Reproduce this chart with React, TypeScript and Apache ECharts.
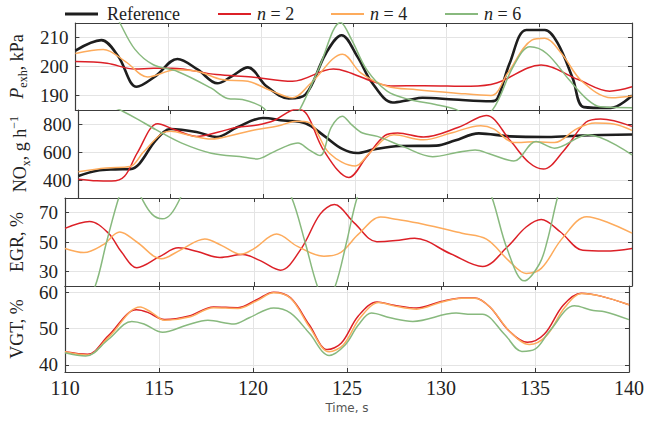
import React, { useEffect, useRef } from 'react';
import * as echarts from 'echarts';

// ---------- data ----------
const timeRange = [110, 140];
const timeTicks = [110, 115, 120, 125, 130, 135, 140];
const legendNames = ['Reference', 'n = 2', 'n = 4', 'n = 6'];

// Panel 1: exhaust pressure, kPa
const pexhRef = [[110,205.5],[111.4,209.1],[112.3,203.6],[113.3,193],[114.3,196.6],[115.5,202.6],[116.6,198.9],[117.65,194.2],[118.4,196.5],[119.3,199.7],[120.3,193.2],[121.5,189],[122.4,190.3],[123.5,204.5],[124.35,210.8],[125.2,203.4],[126,194.3],[127.1,187.6],[128,188.5],[128.7,189.2],[130.4,188.6],[132.4,188],[132.75,189],[133.4,201],[134.3,212.6],[135.3,212.6],[136,208],[136.8,196],[137.4,186],[138.85,185.7],[140,190]];
const pexhN2 = [[110,201.7],[111.7,201.1],[113.2,199.1],[114.2,199.4],[115.2,199.4],[117.6,197.2],[119.5,196.4],[121.7,194.9],[123.9,199.1],[124.6,198.3],[126,194.9],[127,193.3],[128.8,193.4],[131.3,193.2],[132.7,194.3],[135.1,200.5],[137.1,195.5],[138.8,191.5],[140,193]];
const pexhN4 = [[110,204.5],[111.5,205.9],[112.7,201.7],[113.9,196.4],[115.4,198.9],[116.6,198.3],[117.9,195.5],[119.3,194.9],[120.6,191.5],[121.7,189.2],[122.7,194.3],[124.4,204.2],[125.4,197.7],[126.8,193.2],[128.4,192],[130.4,190.9],[132.4,190],[133.3,197.7],[134.6,209.1],[135.3,209.7],[136.2,204.5],[137.3,194.9],[138.9,189.2],[140,189.8]];
const pexhN6 = [[110,240],[111,230],[112,220],[112.4,215],[113.2,206],[114.2,200.6],[115.5,198.3],[117.3,192.6],[118.2,189],[119,188.6],[120,186.3],[121,181],[121.6,181],[122.1,185.2],[123.1,199],[124.3,215.2],[124.9,209.1],[125.7,198.9],[126.8,191.5],[128,188.6],[129.4,186.9],[130.5,185.2],[131.5,182],[132.5,185.2],[133.6,200],[134.5,206.8],[135.4,204.5],[136.6,195.5],[137.6,188.6],[138.3,186.1],[140,185.8]];

// Panel 2: NOx, g/h
const noxRef = [[110,433],[111,470],[112,480],[112.8,482],[113.3,520],[114.2,690],[115,769],[116.4,748],[117.5,712],[118.6,781],[120,848],[121.1,830],[122.3,810],[123.3,722],[124.3,626],[125.1,597],[126,622],[127.4,647],[129.4,650],[130.4,686],[131.7,738],[133.4,716],[135.4,712],[137.3,722],[140,730]];
const noxN2 = [[110,410],[111,398],[111.8,396],[112.5,430],[113.2,600],[114.3,807],[115.2,765],[116.4,716],[117.6,748],[118.6,781],[119.7,798],[120.6,830],[121.5,900],[121.9,910],[122.4,870],[123.3,614],[124.66,422],[125.6,567],[126.6,721],[127.3,740],[128.7,711],[130.6,781],[132.1,865],[133.4,686],[134.4,531],[135.2,482],[136.3,614],[137.5,817],[138.3,841],[140,788]];
const noxN4 = [[110,463],[111.5,490],[112.8,500],[113.5,600],[114.5,735],[115,752],[116,725],[117.2,697],[118.5,730],[119.6,764],[120.8,790],[121.8,824],[122.5,815],[123.6,595],[125,504],[125.8,600],[127.1,728],[128.7,692],[130.2,740],[131.8,793],[132.5,770],[133.6,672],[134.8,678],[135.8,672],[137,770],[138,812],[139,805],[140,759]];
const noxN6 = [[110,1010],[111,960],[112,920],[112.4,896],[113.2,840],[114.2,764],[115.6,668],[117.2,596],[119,567],[119.7,555],[120.5,600],[121.2,643],[121.9,668],[122.5,620],[123.1,579],[123.7,781],[124.3,860],[124.8,800],[125.4,740],[126.2,716],[127.6,643],[129.2,571],[130.5,600],[131.5,619],[132.3,590],[133.6,540],[134.8,680],[135.8,632],[137.6,728],[140,583]];

// Panel 3: EGR, %
const egrN2 = [[110,59.3],[111.3,64],[112.3,56],[113,43],[113.8,32.5],[115,40],[116,46],[117,43.5],[118.2,39.5],[119.4,41.5],[120.3,37.5],[121.4,30.8],[122.5,45.5],[123.5,69],[124.25,75.5],[125.3,63],[126.5,50.2],[127.5,51],[128.5,52.6],[130.4,42],[132.1,33.3],[133.4,46.6],[134.4,60.2],[135.2,65.3],[136.2,57],[137.4,44.3],[138.6,43.8],[140,45.6]];
const egrN4 = [[110,45.6],[111,42.8],[112,48],[112.9,56.8],[113.8,50],[115.1,38.6],[116.1,44.5],[117.4,52.1],[118.3,47.5],[119.3,41.6],[120,45.5],[121.2,55.4],[122.3,47],[123.7,40.3],[124.6,43],[125.5,55],[126.7,67],[127.5,65.5],[128.9,62.3],[131,56],[132.3,52],[133.5,37],[134.4,28.6],[135.2,32],[136.3,52.3],[137.6,67.2],[138.7,63.5],[140,56]];
const egrN6 = [[110,-20],[110.8,0],[111.6,20],[112.2,50],[112.84,80],[113.3,95],[113.7,90],[114.05,80],[114.6,69],[115.15,65.8],[115.6,69],[116.1,80],[116.8,100],[118,120],[119.5,125],[121,105],[122,80],[122.7,50],[123.35,20],[123.8,10],[124.3,20],[124.9,50],[125.45,80],[126.2,105],[128,130],[130,130],[131.8,105],[132.6,80],[133.4,45],[134.3,23.5],[135.1,35],[135.5,50],[136.05,80],[136.7,110],[138,140],[140,150]];

// Panel 4: VGT, %
const vgtN2 = [[110,43.6],[111.2,42.9],[112.3,48],[113.8,55.2],[114.4,54.5],[115.3,52.5],[116.6,53.5],[117.9,56],[119.2,55.8],[120.2,58],[121.1,60.1],[122,58.5],[123,51],[123.96,44.2],[124.7,46],[125.6,53.5],[126.6,57.4],[127.5,56.5],[128.7,55.7],[130,57.5],[131.1,58.5],[131.8,58.5],[132.6,56],[133.6,49.5],[134.6,46.2],[135.5,48.5],[136.5,56.5],[137.45,59.8],[138.5,59],[140,56.6]];
const vgtN4 = [[110,43.6],[111.2,42.7],[112.3,47.5],[114,56],[114.6,54.5],[115.3,52.3],[116.6,53.2],[117.9,55.8],[119.2,55.6],[120.2,57.7],[121.1,59.9],[122,58.4],[123,50.5],[124.05,43.6],[124.8,45.5],[125.7,53],[126.7,57.2],[127.5,56.3],[128.7,55.4],[130,57.3],[131.1,58.4],[131.8,58.4],[132.6,56],[133.7,49],[134.7,45.6],[135.6,48],[136.6,56],[137.5,59.7],[138.5,59],[140,56.6]];
const vgtN6 = [[110,43.3],[111.1,42.4],[112.3,47],[113.55,52],[114.2,51.3],[115.2,49],[116.5,51],[117.6,52.3],[119,51.3],[119.8,53],[121.1,55.7],[122,54.3],[123,48.7],[124.05,42.6],[124.9,45.5],[125.6,51],[126.3,54.3],[127.3,53],[128.5,52],[130.8,54.3],[131.6,54],[132.2,54],[133.4,48.3],[134.3,43.7],[135,44.3],[135.8,49.5],[137.1,56.3],[138.1,55],[138.7,54.7],[140,52.5]];

// axis ranges and tick labels per panel
const yMins = [185, 275, 20, 38];
const yMaxs = [215, 905, 80, 61.8];
const yTicks = [[190, 200, 210], [400, 600, 800], [30, 50, 70], [40, 50, 60]];
const yNames = [
  '{i|P}{sub|exh}{n|, kPa}',
  '{n|NO}{sub|x}{n|, g h}{sup|\u22121}',
  '{n|EGR, %}',
  '{n|VGT, %}',
];

const SERIF = '"Liberation Serif", "DejaVu Serif", serif';
const colors: Record<string, string> = {
  'Reference': '#1e1e1e',
  'n = 2': '#dc2027',
  'n = 4': '#fdab5c',
  'n = 6': '#88b97e',
};
const widths: Record<string, number> = { 'Reference': 2.6, 'n = 2': 1.5, 'n = 4': 1.5, 'n = 6': 1.5 };

const panels: { name: string; data: number[][] }[][] = [
  [{ name: 'Reference', data: pexhRef }, { name: 'n = 2', data: pexhN2 }, { name: 'n = 4', data: pexhN4 }, { name: 'n = 6', data: pexhN6 }],
  [{ name: 'Reference', data: noxRef }, { name: 'n = 2', data: noxN2 }, { name: 'n = 4', data: noxN4 }, { name: 'n = 6', data: noxN6 }],
  [{ name: 'n = 2', data: egrN2 }, { name: 'n = 4', data: egrN4 }, { name: 'n = 6', data: egrN6 }],
  [{ name: 'n = 2', data: vgtN2 }, { name: 'n = 4', data: vgtN4 }, { name: 'n = 6', data: vgtN6 }],
];

const gridTops = [23, 110, 198, 286];
const gridHeights = [87, 88, 88, 86];
const legendLefts = [60, 213, 326, 440];

export default function App() {
  const ref = useRef<HTMLDivElement>(null);
  useEffect(() => {
    const chart = echarts.init(ref.current!, null, { renderer: 'svg' });
    const axisColor = '#3c3c3c';
    const gridColor = '#e4e4e4';
    const richName = {
      n: { fontFamily: SERIF, fontSize: 18, color: '#222', lineHeight: 24 },
      i: { fontFamily: SERIF, fontSize: 18, fontStyle: 'italic', color: '#222', lineHeight: 24 },
      sub: { fontFamily: SERIF, fontSize: 12, color: '#222', verticalAlign: 'bottom', lineHeight: 13 },
      sup: { fontFamily: SERIF, fontSize: 12, color: '#222', verticalAlign: 'top', lineHeight: 13 },
    };
    const xAxes: any[] = [];
    const yAxes: any[] = [];
    const grids: any[] = [];
    for (let i = 0; i < 4; i++) {
      grids.push({ left: 61, right: 15, top: gridTops[i], height: gridHeights[i], show: false });
      const last = i === 3;
      xAxes.push({
        gridIndex: i, type: 'value', min: timeRange[0], max: timeRange[1], interval: 5, position: 'bottom',
        axisLine: { show: true, onZero: false, lineStyle: { color: axisColor, width: 1.2 } },
        axisTick: { show: true, inside: true, length: 4, lineStyle: { color: axisColor, width: 1 } },
        axisLabel: {
          show: last, margin: 6, fontFamily: SERIF, fontSize: 20, color: '#222',
          customValues: timeTicks,
        },
        splitLine: { show: true, lineStyle: { color: gridColor, width: 1 } },
        name: last ? 'Time, s' : '',
        nameLocation: 'middle', nameGap: 30,
        nameTextStyle: { fontFamily: '"DejaVu Sans", sans-serif', fontSize: 12, color: '#555' },
      });
      xAxes.push({
        gridIndex: i, type: 'value', min: timeRange[0], max: timeRange[1], interval: 5, position: 'top',
        axisLine: { show: true, onZero: false, lineStyle: { color: axisColor, width: 1.2 } },
        axisTick: { show: true, inside: true, length: 4, lineStyle: { color: axisColor, width: 1 } },
        axisLabel: { show: false },
        splitLine: { show: false },
      });
      yAxes.push({
        gridIndex: i, type: 'value', min: yMins[i], max: yMaxs[i], position: 'left',
        axisLine: { show: true, onZero: false, lineStyle: { color: axisColor, width: 1.2 } },
        axisTick: { show: true, inside: true, length: 4, customValues: yTicks[i], lineStyle: { color: axisColor, width: 1 } },
        axisLabel: { show: true, margin: 7, fontFamily: SERIF, fontSize: 19, color: '#222', customValues: yTicks[i] },
        splitLine: { show: true, lineStyle: { color: gridColor, width: 1 } },
        name: yNames[i], nameLocation: 'middle', nameGap: 36,
        nameTextStyle: { fontFamily: SERIF, fontSize: 18, color: '#222', rich: richName },
      });
      yAxes.push({
        gridIndex: i, type: 'value', min: yMins[i], max: yMaxs[i], position: 'right',
        axisLine: { show: true, onZero: false, lineStyle: { color: axisColor, width: 1.2 } },
        axisTick: { show: true, inside: true, length: 4, customValues: yTicks[i], lineStyle: { color: axisColor, width: 1 } },
        axisLabel: { show: false },
        splitLine: { show: false },
      });
    }
    const series: any[] = [];
    panels.forEach((list, i) => {
      list.forEach((s, k) => {
        series.push({
          type: 'line', name: s.name, data: s.data, xAxisIndex: 2 * i, yAxisIndex: 2 * i,
          smooth: 0.35, symbol: 'none', showSymbol: false, clip: true, z: 2 + k,
          lineStyle: { color: colors[s.name], width: widths[s.name] },
          itemStyle: { color: colors[s.name] },
        });
      });
    });
    const legends = legendNames.map((name, k) => ({
      data: [name], top: 0, left: legendLefts[k], icon: 'rect',
      itemWidth: 33, itemHeight: name === 'Reference' ? 3 : 2,
      selectedMode: false,
      textStyle: {
        fontFamily: SERIF, fontSize: 18, color: '#222',
        padding: name === 'Reference' ? [0, 0, 0, 4] : [0, 0, 0, 1],
        rich: {
          i: { fontFamily: SERIF, fontSize: 18, fontStyle: 'italic', color: '#222' },
          t: { fontFamily: SERIF, fontSize: 18, color: '#222' },
        },
      },
      formatter: (nm: string) => (nm === 'Reference' ? nm : `{i|n}{t| = ${nm.slice(4)}}`),
    }));
    chart.setOption({
      animation: false,
      backgroundColor: '#ffffff',
      grid: grids,
      xAxis: xAxes,
      yAxis: yAxes,
      legend: legends,
      series,
    });
    return () => chart.dispose();
  }, []);
  return <div ref={ref} style={{ position: 'fixed', left: 0, top: 0, width: 647, height: 421 }} />;
}
